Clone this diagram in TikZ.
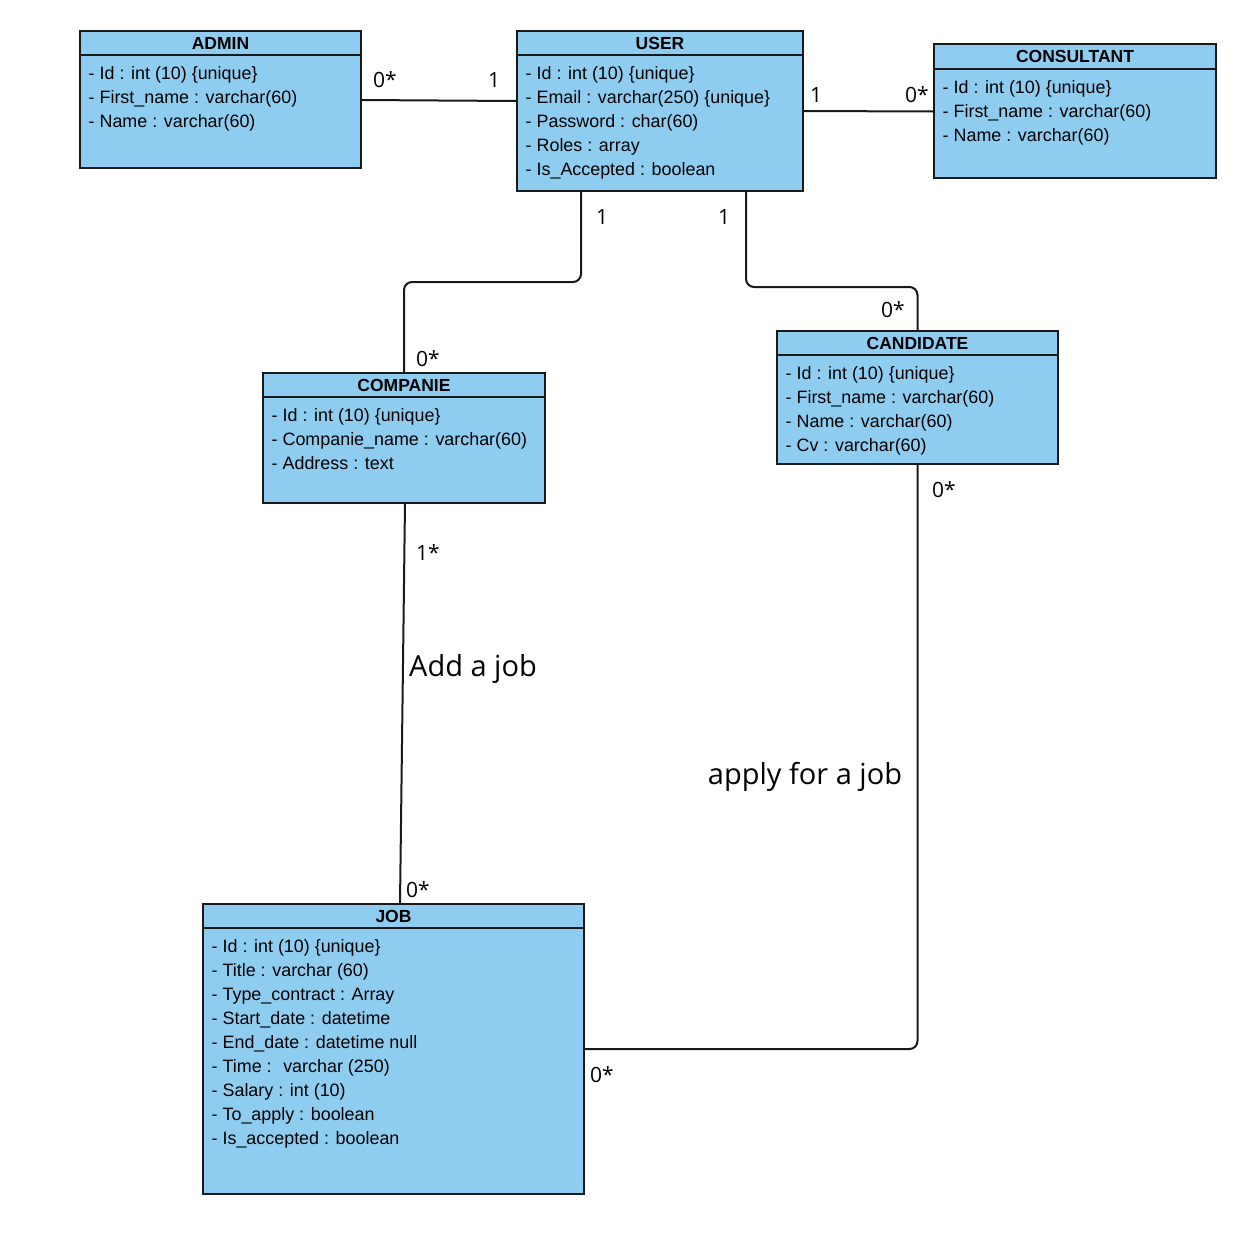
\documentclass[tikz,border=0pt]{standalone}
\usepackage{fontspec}
\setmainfont{Liberation Sans}
\newfontfamily\labelfont{Open Sans}
\usetikzlibrary{positioning}
\definecolor{ClassClr}{RGB}{143,205,240}
\definecolor{LineClr}{RGB}{25,25,25}

\begin{document}
\begin{tikzpicture}[x=1pt,y=-1pt,
  hdr/.style={draw=LineClr,fill=ClassClr,line width=2pt,minimum height=24,inner sep=0pt,outer sep=0pt,anchor=north west,font=\fontsize{17.5}{21}\selectfont\bfseries},
  bdy/.style={draw=LineClr,fill=ClassClr,line width=2pt,inner sep=0pt,outer sep=0pt,below=0pt of #1},
  attr/.style={anchor=north west,align=left,inner xsep=8.5,inner ysep=7.4,font=\fontsize{17.9}{24}\selectfont},
  assoc/.style={draw=LineClr,line width=2pt},
  mult/.style={inner sep=0pt,font=\labelfont\fontsize{21}{25}\selectfont},
  verb/.style={inner sep=0pt,font=\labelfont\fontsize{29}{34}\selectfont}]

\useasboundingbox (0,0) rectangle (1248,1232);

% classes
\node[hdr,minimum width=281] (admin) at (80,31) {ADMIN};
\node[bdy=admin,minimum width=281,minimum height=113] (adminB) {};
\node[attr] (adminA) at (adminB.north west) {\strut- Id : int (10) \{unique\}\\- First\_name : varchar(60)\\- Name : varchar(60)};

\node[hdr,minimum width=286] (user) at (517,31) {USER};
\node[bdy=user,minimum width=286,minimum height=136] (userB) {};
\node[attr] (userA) at (userB.north west) {\strut- Id : int (10) \{unique\}\\- Email : varchar(250) \{unique\}\\- Password : char(60)\\- Roles : array\\- Is\_Accepted : boolean};

\node[hdr,minimum width=282,minimum height=25] (consultant) at (934,44) {CONSULTANT};
\node[bdy=consultant,minimum width=282,minimum height=109] (consultantB) {};
\node[attr] (consultantA) at (consultantB.north west) {\strut- Id : int (10) \{unique\}\\- First\_name : varchar(60)\\- Name : varchar(60)};

\node[hdr,minimum width=282] (companie) at (263,373) {COMPANIE};
\node[bdy=companie,minimum width=282,minimum height=106] (companieB) {};
\node[attr] (companieA) at (companieB.north west) {\strut- Id : int (10) \{unique\}\\- Companie\_name : varchar(60)\\- Address : text};

\node[hdr,minimum width=281] (candidate) at (777,331) {CANDIDATE};
\node[bdy=candidate,minimum width=281,minimum height=109] (candidateB) {};
\node[attr] (candidateA) at (candidateB.north west) {\strut- Id : int (10) \{unique\}\\- First\_name : varchar(60)\\- Name : varchar(60)\\- Cv : varchar(60)};

\node[hdr,minimum width=381] (job) at (203,904) {JOB};
\node[bdy=job,minimum width=381,minimum height=266] (jobB) {};
\node[attr] (jobA) at (jobB.north west) {\strut- Id : int (10) \{unique\}\\- Title : varchar (60)\\- Type\_contract : Array\\- Start\_date : datetime\\- End\_date : datetime null\\- Time :~ varchar (250)\\- Salary : int (10)\\- To\_apply : boolean\\- Is\_accepted : boolean};

% associations
\draw[assoc] ([yshift=11.5]adminB.east) -- ([yshift=22]userB.west);
\draw[assoc] ([yshift=12]userB.east) -- ([yshift=12]consultantB.west);
\draw[assoc,rounded corners=8] ([xshift=64]userB.south west) -- ++(0,91) -| (companie.north);
\draw[assoc,rounded corners=8] ([xshift=229]userB.south west) -- ++(0,96) -| (candidate.north);
\draw[assoc] ([xshift=1]companieB.south) -- ([xshift=6.5]job.north);
\draw[assoc,rounded corners=8] (candidateB.south) |- ([yshift=12]jobB.east);

% multiplicities
\node[mult] (m1) at (385,80) {0*};
\node[mult] (m2) at (494,80) {1};
\node[mult] (m3) at (816,95) {1};
\node[mult] (m4) at (917,95) {0*};
\node[mult] (m5) at (602,217) {1};
\node[mult] (m6) at (724,217) {1};
\node[mult] (m7) at (428,359) {0*};
\node[mult] (m8) at (893,310) {0*};
\node[mult] (m9) at (428,553) {1*};
\node[mult] (m10) at (418,890) {0*};
\node[mult] (m11) at (944,490) {0*};
\node[mult] (m12) at (602,1075) {0*};

\node[verb] (addjob) at (473,669) {Add a job};
\node[verb] (applyjob) at (805,777) {apply for a job};

\end{tikzpicture}
\end{document}
